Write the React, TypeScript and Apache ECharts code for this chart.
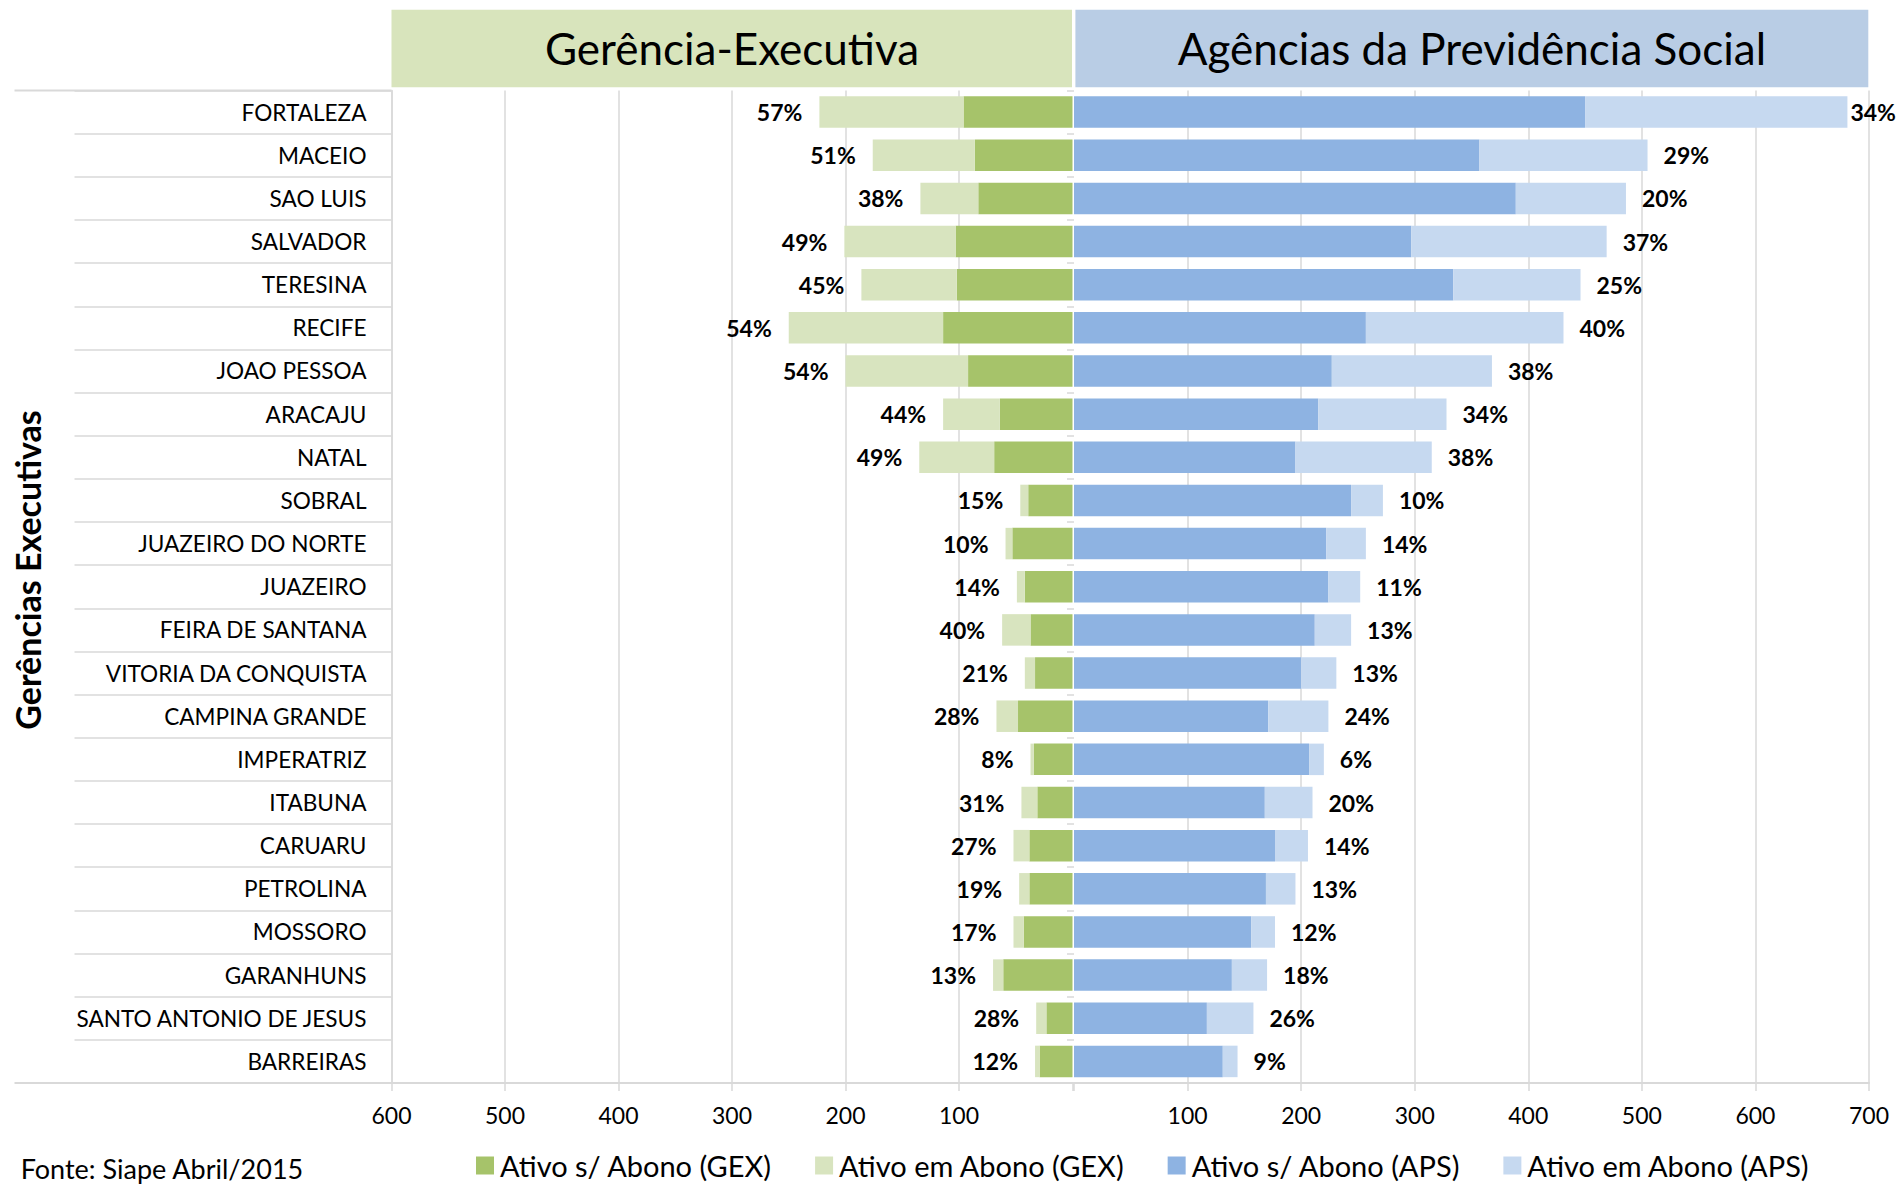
import React, { useEffect, useRef } from "react";
import * as echarts from "echarts";

const categories = [
  "FORTALEZA", "MACEIO", "SAO LUIS", "SALVADOR", "TERESINA", "RECIFE", "JOAO PESSOA",
  "ARACAJU", "NATAL", "SOBRAL", "JUAZEIRO DO NORTE", "JUAZEIRO", "FEIRA DE SANTANA",
  "VITORIA DA CONQUISTA", "CAMPINA GRANDE", "IMPERATRIZ", "ITABUNA", "CARUARU",
  "PETROLINA", "MOSSORO", "GARANHUNS", "SANTO ANTONIO DE JESUS", "BARREIRAS",
];
const gexSemAbono = [96, 86, 83, 103, 102, 114, 92, 64, 69, 39, 53, 42, 37, 33, 48, 34, 31, 38, 38, 43, 61, 23, 29];
const gexEmAbono = [127, 90, 51, 98, 84, 136, 108, 50, 66, 7, 6, 7, 25, 9, 19, 3, 14, 14, 9, 9, 9, 9, 4];
const apsSemAbono = [450, 357, 389, 297, 334, 257, 227, 215, 195, 244, 222, 224, 212, 200, 171, 207, 168, 177, 169, 156, 139, 117, 131];
const apsEmAbono = [231, 148, 97, 172, 112, 174, 141, 113, 120, 28, 35, 28, 32, 31, 53, 13, 42, 29, 26, 21, 31, 41, 13];
const gexAxisMax = 600;
const apsAxisMax = 700;
const axisStep = 100;

const seriesNames = [
  "Ativo s/ Abono (GEX)",
  "Ativo em Abono (GEX)",
  "Ativo s/ Abono (APS)",
  "Ativo em Abono (APS)",
];
const panelTitles = ["Gerência-Executiva", "Agências da Previdência Social"];
const axisTitle = "Gerências Executivas";
const sourceNote = "Fonte: Siape Abril/2015";

const FONT = "Lato";
const GRID = "#d9d9d9";

const pct = (sem: number, em: number) => Math.round((em / (sem + em)) * 100) + "%";

export default function App() {
  const ref = useRef<HTMLDivElement>(null);
  useEffect(() => {
    document.body.style.margin = "0";
    const chart = echarts.init(ref.current!, null, { renderer: "svg" });
    const top = 90.5;
    const bottom = 104;
    const leftL = 391.5;
    const leftR = 1072.5;
    const rightL = 1074;
    const rightR = 1869;

    const tickLabel = (v: number) => (v === 0 ? "" : String(v));

    const option: any = {
      animation: false,
      backgroundColor: "#ffffff",
      textStyle: { fontFamily: FONT },
      grid: [
        { left: leftL, right: 1901 - leftR, top, bottom, containLabel: false },
        { left: rightL, right: 1901 - rightR, top, bottom, containLabel: false },
      ],
      xAxis: [
        {
          gridIndex: 0,
          type: "value",
          inverse: true,
          min: 0,
          max: gexAxisMax,
          interval: axisStep,
          axisLine: { show: true, onZero: false, lineStyle: { color: GRID, width: 2 } },
          axisTick: { show: true, length: 8, lineStyle: { color: GRID, width: 1.5 } },
          splitLine: { show: true, showMinLine: false, lineStyle: { color: GRID, width: 1.5 } },
          axisLabel: { formatter: tickLabel, fontFamily: FONT, fontSize: 23, color: "#000", margin: 20 },
        },
        {
          gridIndex: 1,
          type: "value",
          min: 0,
          max: apsAxisMax,
          interval: axisStep,
          axisLine: { show: true, onZero: false, lineStyle: { color: GRID, width: 2 } },
          axisTick: { show: true, length: 8, lineStyle: { color: GRID, width: 1.5 } },
          splitLine: { show: true, showMinLine: false, lineStyle: { color: GRID, width: 1.5 } },
          axisLabel: { formatter: tickLabel, fontFamily: FONT, fontSize: 23, color: "#000", margin: 20, showMaxLabel: true },
        },
      ],
      yAxis: [
        {
          gridIndex: 0,
          type: "category",
          inverse: true,
          position: "left",
          data: categories,
          axisLine: { show: true, onZero: false, lineStyle: { color: GRID, width: 1.5 } },
          axisTick: { show: true, length: 317, lineStyle: { color: GRID, width: 1.5 } },
          axisLabel: { fontFamily: FONT, fontSize: 22.6, color: "#000", margin: 25 },
          splitLine: { show: false },
        },
        {
          gridIndex: 1,
          type: "category",
          inverse: true,
          position: "left",
          data: categories,
          axisLine: { show: false, onZero: false },
          axisTick: { show: true, length: 7, lineStyle: { color: GRID, width: 1.5 } },
          axisLabel: { show: false },
          splitLine: { show: false },
        },
      ],
      legend: {
        left: 476,
        top: 1151,
        padding: 0,
        itemWidth: 18,
        itemHeight: 18,
        itemGap: 43,
        icon: "rect",
        textStyle: { fontFamily: FONT, fontSize: 29, color: "#000", padding: [0, 0, 0, 1] },
        data: seriesNames,
      },
      series: [
        {
          name: seriesNames[0],
          type: "bar",
          xAxisIndex: 0,
          yAxisIndex: 0,
          stack: "gex",
          barCategoryGap: "27%",
          itemStyle: { color: "#a6c36a" },
          data: gexSemAbono,
        },
        {
          name: seriesNames[1],
          type: "bar",
          xAxisIndex: 0,
          yAxisIndex: 0,
          stack: "gex",
          barCategoryGap: "27%",
          itemStyle: { color: "#d8e4bf" },
          label: {
            show: true,
            position: "left",
            distance: 17,
            fontFamily: FONT,
            fontWeight: "bold",
            fontSize: 23,
            color: "#000",
            formatter: (p: any) => pct(gexSemAbono[p.dataIndex], gexEmAbono[p.dataIndex]),
          },
          data: gexEmAbono,
        },
        {
          name: seriesNames[2],
          type: "bar",
          xAxisIndex: 1,
          yAxisIndex: 1,
          stack: "aps",
          barCategoryGap: "27%",
          itemStyle: { color: "#8eb3e2" },
          data: apsSemAbono,
        },
        {
          name: seriesNames[3],
          type: "bar",
          xAxisIndex: 1,
          yAxisIndex: 1,
          stack: "aps",
          barCategoryGap: "27%",
          itemStyle: { color: "#c6d9f0" },
          label: {
            show: true,
            position: "right",
            distance: 16,
            fontFamily: FONT,
            fontWeight: "bold",
            fontSize: 23,
            color: "#000",
            formatter: (p: any) => pct(apsSemAbono[p.dataIndex], apsEmAbono[p.dataIndex]),
          },
          data: apsEmAbono.map((v, i) =>
            apsSemAbono[i] + v > apsAxisMax - 50 ? { value: v, label: { distance: 3 } } : v
          ),
        },
      ],
      graphic: [
        {
          type: "rect",
          shape: { x: leftL, y: 9.7, width: leftR - 0.5 - leftL, height: 77.6 },
          style: { fill: "#d8e4bc" },
          z: 0,
        },
        {
          type: "rect",
          shape: { x: 1075.4, y: 9.7, width: 1868.3 - 1075.4, height: 77.6 },
          style: { fill: "#b9cde5" },
          z: 0,
        },
        {
          type: "text",
          x: (leftL + leftR) / 2,
          y: 48,
          style: { text: panelTitles[0], fontFamily: FONT, fontSize: 44, fill: "#000", align: "center", verticalAlign: "middle" },
        },
        {
          type: "text",
          x: (1075.4 + 1868.3) / 2,
          y: 48,
          style: { text: panelTitles[1], fontFamily: FONT, fontSize: 44, fill: "#000", align: "center", verticalAlign: "middle" },
        },
        {
          type: "line",
          shape: { x1: 14.5, y1: top, x2: leftL, y2: top },
          style: { stroke: GRID, lineWidth: 2 },
        },
        {
          type: "line",
          shape: { x1: 14.5, y1: 1187 - bottom, x2: leftL, y2: 1187 - bottom },
          style: { stroke: GRID, lineWidth: 2 },
        },
        {
          type: "text",
          x: 27,
          y: 570,
          rotation: Math.PI / 2,
          style: { text: axisTitle, fontFamily: FONT, fontWeight: "bold", fontSize: 34, fill: "#000", align: "center", verticalAlign: "middle" },
        },
        {
          type: "text",
          x: 20.7,
          y: 1168,
          style: { text: sourceNote, fontFamily: FONT, fontSize: 27, fill: "#000", align: "left", verticalAlign: "middle" },
        },
      ],
    };
    chart.setOption(option);
    return () => chart.dispose();
  }, []);
  return (
    <div
      ref={ref}
      style={{ position: "absolute", left: 0, top: 0, width: 1901, height: 1187, overflow: "hidden" }}
    />
  );
}
